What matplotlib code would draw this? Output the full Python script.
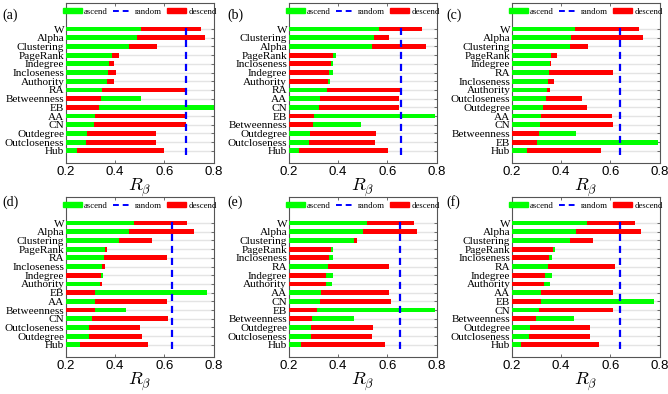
import matplotlib
matplotlib.use('Agg')
import matplotlib.pyplot as plt
from matplotlib.patches import Patch
from matplotlib.lines import Line2D

plt.rcParams['mathtext.fontset'] = 'cm'

# categories (top to bottom), ascend / descend values, random baseline, per panel
names_a = ['W', 'Alpha', 'Clustering', 'PageRank', 'Indegree', 'Incloseness', 'Authority', 'RA',
           'Betweenness', 'EB', 'AA', 'CN', 'Outdegree', 'Outcloseness', 'Hub']
asc_a = [0.504, 0.491, 0.455, 0.388, 0.376, 0.370, 0.366, 0.346, 0.507, 0.800, 0.319, 0.314, 0.285, 0.282, 0.247]
desc_a = [0.750, 0.764, 0.572, 0.415, 0.396, 0.404, 0.395, 0.689, 0.342, 0.336, 0.686, 0.686, 0.566, 0.568, 0.599]
rand_a = 0.686

names_b = ['W', 'Clustering', 'Alpha', 'PageRank', 'Incloseness', 'Indegree', 'Authority', 'RA',
           'AA', 'CN', 'EB', 'Betweenness', 'Outdegree', 'Outcloseness', 'Hub']
asc_b = [0.565, 0.547, 0.538, 0.392, 0.378, 0.380, 0.369, 0.355, 0.326, 0.322, 0.795, 0.492, 0.288, 0.284, 0.241]
desc_b = [0.741, 0.607, 0.757, 0.382, 0.373, 0.362, 0.359, 0.655, 0.649, 0.649, 0.304, 0.300, 0.553, 0.549, 0.603]
rand_b = 0.655

names_c = ['W', 'Alpha', 'Clustering', 'PageRank', 'Indegree', 'RA', 'Incloseness', 'Authority',
           'Outcloseness', 'Outdegree', 'AA', 'CN', 'Betweenness', 'EB', 'Hub']
asc_c = [0.457, 0.441, 0.436, 0.359, 0.355, 0.353, 0.346, 0.342, 0.338, 0.328, 0.319, 0.315, 0.461, 0.792, 0.264]
desc_c = [0.718, 0.731, 0.511, 0.382, 0.358, 0.609, 0.373, 0.355, 0.484, 0.504, 0.608, 0.612, 0.312, 0.304, 0.561]
rand_c = 0.639

names_d = ['W', 'Alpha', 'Clustering', 'PageRank', 'RA', 'Incloseness', 'Indegree', 'Authority',
           'EB', 'AA', 'Betweenness', 'CN', 'Outcloseness', 'Outdegree', 'Hub']
asc_d = [0.478, 0.457, 0.416, 0.361, 0.354, 0.347, 0.350, 0.339, 0.772, 0.318, 0.443, 0.307, 0.295, 0.295, 0.259]
desc_d = [0.691, 0.719, 0.549, 0.368, 0.612, 0.361, 0.343, 0.346, 0.319, 0.611, 0.318, 0.614, 0.503, 0.511, 0.535]
rand_d = 0.631

names_e = ['W', 'Alpha', 'Clustering', 'PageRank', 'Incloseness', 'RA', 'Indegree', 'Authority',
           'AA', 'CN', 'EB', 'Betweenness', 'Outdegree', 'Outcloseness', 'Hub']
asc_e = [0.518, 0.500, 0.464, 0.382, 0.378, 0.361, 0.382, 0.374, 0.332, 0.326, 0.792, 0.466, 0.292, 0.291, 0.251]
desc_e = [0.707, 0.720, 0.477, 0.373, 0.364, 0.609, 0.350, 0.350, 0.609, 0.614, 0.316, 0.293, 0.543, 0.538, 0.589]
rand_e = 0.650

names_f = ['W', 'Alpha', 'Clustering', 'PageRank', 'Incloseness', 'RA', 'Indegree', 'Authority',
           'AA', 'EB', 'CN', 'Betweenness', 'Outdegree', 'Outcloseness', 'Hub']
asc_f = [0.504, 0.461, 0.436, 0.374, 0.362, 0.347, 0.364, 0.354, 0.318, 0.777, 0.312, 0.454, 0.274, 0.269, 0.239]
desc_f = [0.700, 0.726, 0.531, 0.366, 0.350, 0.618, 0.334, 0.330, 0.609, 0.318, 0.609, 0.299, 0.519, 0.519, 0.553]
rand_f = 0.639

panels = [
    ('(a)', names_a, asc_a, desc_a, rand_a),
    ('(b)', names_b, asc_b, desc_b, rand_b),
    ('(c)', names_c, asc_c, desc_c, rand_c),
    ('(d)', names_d, asc_d, desc_d, rand_d),
    ('(e)', names_e, asc_e, desc_e, rand_e),
    ('(f)', names_f, asc_f, desc_f, rand_f),
]

GREEN = '#00ff00'
RED = '#ff0000'
BLUE = '#0000ff'

W, H = 668, 394
fig = plt.figure(figsize=(W / 100, H / 100), dpi=100)

lefts = [65.7, 288.6, 511.7]
tops = [3, 197]
ax_w, ax_h = 148, 160
label_x = [2, 227, 446]
label_y = [15, 202]

for k, (tag, names, asc, desc, rnd) in enumerate(panels):
    col, row = k % 3, k // 3
    ax = fig.add_axes([lefts[col] / W, 1 - (tops[row] + ax_h) / H, ax_w / W, ax_h / H])
    n = len(names)
    y = [n - 1 - i for i in range(n)]

    ax.hlines(y, 0.2, 0.8, color='#e4e4e4', lw=1.0, zorder=0)

    hi = [max(a, d) for a, d in zip(asc, desc)]
    lo = [min(a, d) for a, d in zip(asc, desc)]
    hi_c = [GREEN if a >= d else RED for a, d in zip(asc, desc)]
    lo_c = [RED if a >= d else GREEN for a, d in zip(asc, desc)]
    ax.barh(y, hi, height=0.55, color=hi_c, zorder=2)
    ax.barh(y, lo, height=0.55, color=lo_c, zorder=3)

    ax.plot([rnd, rnd], [-0.5, n - 0.5], color=BLUE, lw=1.6, dashes=(3.2, 2.2), zorder=4)

    ax.set_xlim(0.2, 0.8)
    ax.set_ylim(-1.4, 17)
    ax.set_xticks([0.2, 0.4, 0.6, 0.8])
    ax.set_xticklabels(['0.2', '0.4', '0.6', '0.8'], family='Liberation Sans', fontsize=9.5)
    ax.set_yticks(y)
    ax.set_yticklabels(names, family='Liberation Serif', fontsize=8.1)
    ax.tick_params(direction='in', top=True, right=True, length=2.5, width=0.6, pad=2, color='#555555')
    ax.tick_params(axis='y', pad=1)
    for s in ax.spines.values():
        s.set_color('#555555')
        s.set_linewidth(0.8)
    ax.set_xlabel(r'$R_\beta$', fontsize=13, labelpad=-1)

    handles = [Patch(color=GREEN), Line2D([], [], color=BLUE, lw=1.4, dashes=(3, 2)), Patch(color=RED)]
    ax.legend(handles, ['ascend', 'random', 'descend'], loc='center', bbox_to_anchor=(0.5, 17.4 / 18.4),
              ncol=3, frameon=False, prop={'family': 'Liberation Serif', 'size': 6.3},
              handlelength=2.2, handleheight=0.5, handletextpad=0.25, columnspacing=0.6, borderpad=0)

    fig.text(label_x[col] / W, 1 - label_y[row] / H, tag, family='Liberation Serif', fontsize=10,
             ha='left', va='center')

fig.savefig('out.png', dpi=100)
